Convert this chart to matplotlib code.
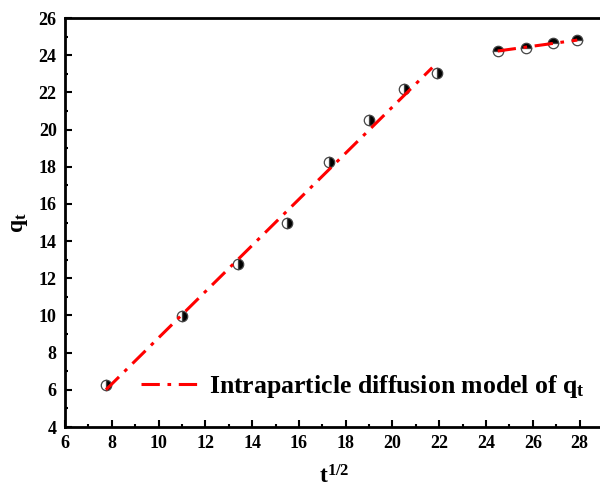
import numpy as np
import matplotlib
matplotlib.use("Agg")
import matplotlib.pyplot as plt

plt.rcParams['font.family'] = ['Liberation Serif', 'DejaVu Serif']
plt.rcParams['font.weight'] = 'bold'
plt.rcParams['mathtext.fontset'] = 'custom'
plt.rcParams['mathtext.rm'] = 'Liberation Serif:bold'
plt.rcParams['mathtext.bf'] = 'Liberation Serif:bold'
plt.rcParams['mathtext.it'] = 'Liberation Serif:bold'

# data
t_half_stage1 = [7.75, 11.0, 13.4, 15.5, 17.3, 19.0, 20.5, 21.9]
qt_stage1 = [6.25, 9.95, 12.75, 15.0, 18.25, 20.5, 22.2, 23.05]
t_half_stage2 = [24.5, 25.7, 26.85, 27.9]
qt_stage2 = [24.25, 24.37, 24.68, 24.8]
x_ticks = [6, 8, 10, 12, 14, 16, 18, 20, 22, 24, 26, 28]
y_ticks = [4, 6, 8, 10, 12, 14, 16, 18, 20, 22, 24, 26]
legend_label = r'Intraparticle diffusion model of $\mathbf{q_t}$'

fig = plt.figure(figsize=(6.0, 4.88), dpi=100)
W, H = 600, 488
left, right, top, bottom = 65, 603, 18, 427
ax = fig.add_axes([left / W, 1 - bottom / H, (right - left) / W, (bottom - top) / H])

for xs, ys, fs in [(t_half_stage1, qt_stage1, 'right'), (t_half_stage2, qt_stage2, 'top')]:
    ax.plot(xs, ys, linestyle='none', marker='o', markersize=7.5, fillstyle=fs,
            markerfacecolor='black', markerfacecoloralt='white',
            markeredgecolor='#444444', markeredgewidth=0.9, zorder=2)

c1 = np.polyfit(t_half_stage1, qt_stage1, 1)
c2 = np.polyfit(t_half_stage2, qt_stage2, 1)
x1 = np.array([t_half_stage1[0], t_half_stage1[-1] - 0.2])
x2 = np.array([t_half_stage2[0], t_half_stage2[-1]])
ls = (0, (6, 2.5, 1.2, 2.5))
ax.plot(x1, np.polyval(c1, x1), color='red', linestyle=ls, linewidth=2.2,
        zorder=3, label=legend_label)
ax.plot(x2, np.polyval(c2, x2), color='red', linestyle=ls, linewidth=2.2, zorder=3)

ax.set_xlim(6, 29)
ax.set_ylim(4, 26)
ax.set_xticks(x_ticks)
ax.set_yticks(y_ticks)
ax.set_xticks(np.arange(7, 29.5, 2), minor=True)
ax.set_yticks(np.arange(5, 26, 2), minor=True)
ax.tick_params(which='major', direction='in', length=5, width=1.5, labelsize=13, pad=6)
ax.tick_params(which='minor', direction='in', length=2.5, width=1.5)
ax.tick_params(top=False, right=False)
for lbl in ax.get_xticklabels() + ax.get_yticklabels():
    lbl.set_fontweight('bold')
for s in ax.spines.values():
    s.set_linewidth(2)

ax.set_xlabel(r'$\mathbf{t^{1/2}}$', fontsize=17, labelpad=9)
ax.set_ylabel(r'$\mathbf{q_t}$', fontsize=17, labelpad=6)

ax.legend(loc='center left', bbox_to_anchor=(0.099, 0.10), frameon=False, fontsize=18.5,
          handlelength=2.15, handletextpad=0.5)

fig.savefig('out.png', dpi=100)
